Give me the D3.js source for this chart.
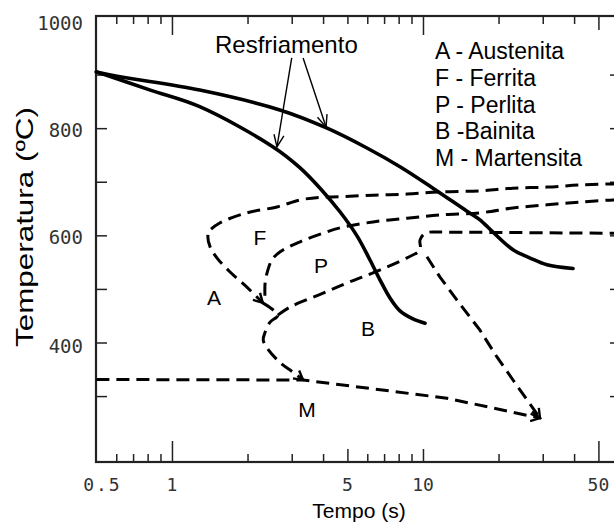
<!DOCTYPE html>
<html><head><meta charset="utf-8">
<script src="https://cdn.jsdelivr.net/npm/d3@7"></script>
<style>body{margin:0;background:#fff}svg{display:block}</style>
</head><body>
<svg id="c" width="614" height="526"></svg>
<script>
// ---- data: [time (s), temperature (°C)] ----
const coolingSlow = [[0.5,905],[0.62,896],[1.29,871],[2.69,834],[4.15,800],[5.98,763],[8.1,728],[10.96,688],[14.97,645],[16.87,629],[19.0,606],[22.84,573],[26.6,558],[31.2,545],[39.6,538]];
const coolingFast = [[0.5,905],[0.82,871],[1.29,840],[2.53,765],[3.24,726],[3.89,688],[4.67,644],[5.46,599],[6.15,554],[6.74,517],[7.39,483],[8.1,459],[9.12,444],[10.19,436]];
const ferriteStart = [[60,696],[57.15,696],[42.2,694],[31.2,690],[22.8,688],[16.9,683],[11.7,681],[8.64,677],[6.32,675],[4.67,672],[3.89,671],[3.24,666],[2.62,653],[1.99,642],[1.55,623],[1.41,608],[1.39,598],[1.42,578],[1.51,558],[1.70,532],[1.95,507],[2.18,485],[2.30,474]];
const bainiteStart = [[2.30,474],[2.64,451],[2.46,438],[2.35,419],[2.31,405],[2.39,390],[2.69,363],[3.03,345],[3.33,330]];
const pearliteStart = [[60,666],[57.15,666],[42.2,662],[31.2,657],[22.8,651],[16.9,642],[11.7,638],[8.64,632],[6.32,625],[4.67,614],[4.0,604],[3.24,588],[2.69,569],[2.50,554],[2.41,535],[2.35,511],[2.35,476]];
const pearliteFinish = [[2.64,451],[2.95,466],[4.0,492],[4.98,511],[6.32,530],[8.64,558],[9.73,573],[9.73,591],[10.07,602],[10.64,606],[11.7,606],[57.15,604],[60,604]];
const bainiteFinish = [[10.37,560],[11.69,522],[13.66,479],[16.87,423],[19.71,373],[22.84,330],[25.96,293],[29.25,259]];
const martensiteLine = [[0.5,331],[3.33,330],[12.46,296],[29.25,259]];

const yTicks = [300,400,500,600,700,800,900];
const yLabels = [1000,800,600,400];
const xMinor = [0.6,0.7,0.8,0.9,2,3,4,6,7,8,9,20,30,40];
const xMedBottom = [5,10];
const xMajBottom = [1,50];
const xMinTop = [0.6,0.7,0.8,0.9,2,3,4,5,6,7,8,9,20,30,40];
const xMajTop = [1,10];
const xMedTop = [50];
const xLabels = [0.5,1,5,10,50];
const legendItems = ["A - Austenita","F - Ferrita","P - Perlita","B -Bainita","M - Martensita"];
const phaseLabels = [["F",2.24,582],["P",3.92,530],["A",1.47,470],["B",6.04,412],["M",3.45,261]];
const coolArrows = [[[3.0,931],[2.62,765]],[[3.33,931],[4.11,802]]];

const svg = d3.select("#c");
const x = d3.scaleLog().domain([0.5,60]).range([96.4,618.3]);
const y = d3.scaleLinear().domain([177,1009.3]).range([462,16]);
const L = 96, R = 621, T = 16, B = 462;

const defs = svg.append("defs");
defs.append("marker").attr("id","open").attr("markerUnits","userSpaceOnUse")
  .attr("viewBox","-14 -8 16 16").attr("refX",0).attr("refY",0)
  .attr("markerWidth",16).attr("markerHeight",16).attr("orient","auto")
  .append("path").attr("d","M-12,-5L0,0L-12,5").attr("fill","none").attr("stroke","#000").attr("stroke-width",1.4);
defs.append("marker").attr("id","dv").attr("markerUnits","userSpaceOnUse")
  .attr("viewBox","-12 -8 14 16").attr("refX",0).attr("refY",0)
  .attr("markerWidth",14).attr("markerHeight",16).attr("orient","auto")
  .append("path").attr("d","M-9,-5L0,0L-9,5").attr("fill","none").attr("stroke","#000").attr("stroke-width",2.4);

// frame
svg.append("rect").attr("x",L).attr("y",T).attr("width",R-L).attr("height",B-T)
  .attr("fill","none").attr("stroke","#222").attr("stroke-width",2.2);

function tickAxis(axis, tr){
  const g = svg.append("g").attr("transform",tr).call(axis);
  g.select(".domain").remove();
  g.selectAll("line").attr("stroke","#222").attr("stroke-width",1.5);
  g.selectAll("text").remove();
}
tickAxis(d3.axisBottom(x).tickValues(xMinor).tickSizeInner(-8).tickSizeOuter(0),`translate(0,${B})`);
tickAxis(d3.axisBottom(x).tickValues(xMedBottom).tickSizeInner(-13).tickSizeOuter(0),`translate(0,${B})`);
tickAxis(d3.axisBottom(x).tickValues(xMajBottom).tickSizeInner(-21).tickSizeOuter(0),`translate(0,${B})`);
tickAxis(d3.axisTop(x).tickValues(xMinTop).tickSizeInner(-8).tickSizeOuter(0),`translate(0,${T})`);
tickAxis(d3.axisTop(x).tickValues(xMajTop).tickSizeInner(-19).tickSizeOuter(0),`translate(0,${T})`);
tickAxis(d3.axisTop(x).tickValues(xMedTop).tickSizeInner(-14).tickSizeOuter(0),`translate(0,${T})`);
tickAxis(d3.axisLeft(y).tickValues(yTicks).tickSizeInner(-11).tickSizeOuter(0),`translate(${L},0)`);
tickAxis(d3.axisRight(y).tickValues(yTicks).tickSizeInner(-11).tickSizeOuter(0),`translate(${R},0)`);

// tick labels
svg.append("g").selectAll("text").data(xLabels).join("text")
  .attr("x",d=>x(d)+(d===0.5?6:0)).attr("y",491).attr("text-anchor","middle")
  .attr("font-family","DejaVu Sans Mono").attr("font-size",18).attr("fill","#333")
  .attr("letter-spacing",d=>d===0.5?2:0).text(d=>d);
svg.append("g").selectAll("text").data(yLabels).join("text")
  .attr("x",83).attr("y",d=>y(d)+(d===400?4:2)).attr("dy","0.35em").attr("text-anchor","end")
  .attr("font-family","DejaVu Sans Mono").attr("font-size",19).attr("fill","#333").text(d=>d);

// axis titles
svg.append("text").attr("x",359).attr("y",518).attr("text-anchor","middle")
  .attr("font-family","Liberation Sans, Arial, sans-serif").attr("font-size",21).attr("fill","#000").text("Tempo (s)");
svg.append("text").attr("transform","translate(33,227) rotate(-90)").attr("text-anchor","middle")
  .attr("font-family","Liberation Sans, Arial, sans-serif").attr("font-size",24).attr("fill","#000")
  .attr("textLength",240).attr("lengthAdjust","spacingAndGlyphs").text("Temperatura (ºC)");

// curves
const line = d3.line().x(d=>x(d[0])).y(d=>y(d[1])).curve(d3.curveCatmullRom.alpha(0.5));
const straight = d3.line().x(d=>x(d[0])).y(d=>y(d[1]));
const dash = "13,7";
function dpath(data, gen, marker){
  const p = svg.append("path").attr("d",gen(data)).attr("fill","none").attr("stroke","#000")
    .attr("stroke-width",3).attr("stroke-dasharray",dash);
  if(marker) p.attr("marker-end","url(#dv)");
  return p;
}
dpath(ferriteStart, line, true);
dpath(bainiteStart, line, true);
dpath(pearliteStart, line, false);
dpath(pearliteFinish, line, false);
dpath(bainiteFinish, straight, true);
dpath(martensiteLine, straight, true);

svg.append("path").attr("d",line(coolingSlow)).attr("fill","none").attr("stroke","#000").attr("stroke-width",3.6).attr("stroke-linecap","round");
svg.append("path").attr("d",line(coolingFast)).attr("fill","none").attr("stroke","#000").attr("stroke-width",3.6).attr("stroke-linecap","round");

// annotations
svg.append("g").selectAll("path").data(coolArrows).join("path").attr("d",d=>straight(d))
  .attr("fill","none").attr("stroke","#000").attr("stroke-width",1.4).attr("marker-end","url(#open)");
svg.append("text").attr("x",215).attr("y",53).attr("font-family","Liberation Sans, Arial, sans-serif")
  .attr("font-size",24).attr("fill","#000").text("Resfriamento");
svg.append("g").selectAll("text").data(legendItems).join("text")
  .attr("x",435).attr("y",(d,i)=>59+i*26.8).attr("font-family","Liberation Sans, Arial, sans-serif")
  .attr("font-size",23).attr("fill","#000").text(d=>d);
svg.append("g").selectAll("text").data(phaseLabels).join("text")
  .attr("x",d=>x(d[1])).attr("y",d=>y(d[2])).attr("text-anchor","middle")
  .attr("font-family","Liberation Sans, Arial, sans-serif").attr("font-size",21).attr("fill","#000").text(d=>d[0]);
</script>
</body></html>
